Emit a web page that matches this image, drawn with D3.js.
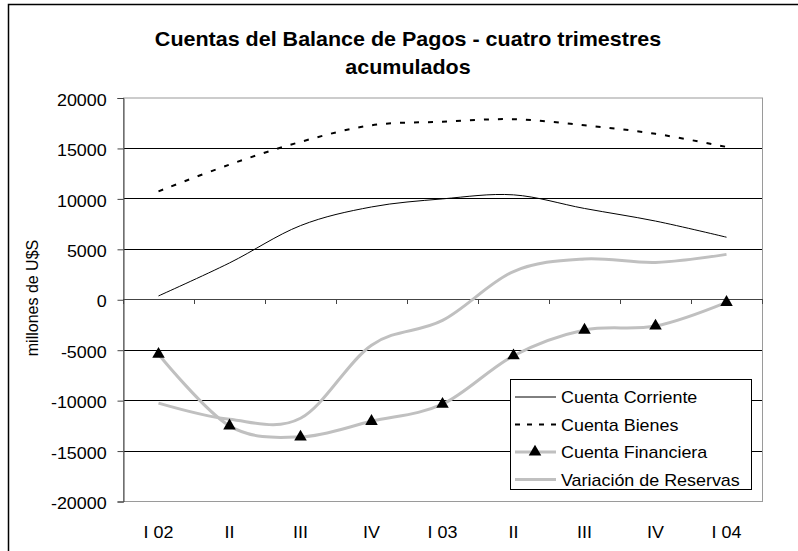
<!DOCTYPE html>
<html>
<head>
<meta charset="utf-8">
<script src="https://cdn.jsdelivr.net/npm/d3@7"></script>
<style>
  body { margin: 0; background: #fff; }
  text { font-family: Arial, "Liberation Sans", sans-serif; fill: #000; }
</style>
</head>
<body>
<svg id="svg" width="798" height="551"></svg>
<script>
// quarters, cumulative four-quarter sums (millones de U$S)
var categories = ["I 02", "II", "III", "IV", "I 03", "II", "III", "IV", "I 04"];
var yTicks = [-20000, -15000, -10000, -5000, 0, 5000, 10000, 15000, 20000];

var cuentaCorriente = [330, 3600, 7300, 9150, 9950, 10350, 9000, 7750, 6150];
var cuentaBienes = [10700, 13350, 15600, 17250, 17600, 17850, 17250, 16400, 15100];
var cuentaFinanciera = [-5450, -12550, -13650, -12100, -10400, -5600, -3050, -2650, -300];
var variacionReservas = [-10300, -11900, -11800, -4550, -2100, 2750, 4000, 3650, 4450];

var seriesNames = ["Cuenta Corriente", "Cuenta Bienes", "Cuenta Financiera", "Variación de Reservas"];

var svg = d3.select("#svg");
var plotLeft = 123, plotRight = 762, plotTop = 97.5, plotBottom = 501;
var sx = 1.12; // the source is a bit wider than tall

var x = d3.scaleBand().domain(d3.range(categories.length)).range([plotLeft, plotRight]);
var y = d3.scaleLinear().domain([-20000, 20000]).range([plotBottom, plotTop]);
var cx = function(i) { return x(i) + x.bandwidth() / 2; };

// outer chart frame
svg.append("rect").attr("x", 8.5).attr("y", 4.5).attr("width", 900).attr("height", 900)
  .attr("fill", "none").attr("stroke", "#000").attr("stroke-width", 1.5);

// title
var title = ["Cuentas del Balance de Pagos - cuatro trimestres", "acumulados"];
svg.selectAll(".title").data(title).enter().append("text")
  .attr("transform", function(d, i) { return "translate(408," + (46 + i * 28) + ") scale(1.075,1)"; })
  .attr("text-anchor", "middle").attr("font-size", 20).attr("font-weight", "bold")
  .text(function(d) { return d; });

// gridlines
svg.append("g").selectAll("line").data(yTicks.filter(function(v) { return v !== 0 && Math.abs(v) < 20000; }))
  .enter().append("line")
  .attr("x1", plotLeft).attr("x2", plotRight)
  .attr("y1", function(d) { return Math.round(y(d)) + 0.5; })
  .attr("y2", function(d) { return Math.round(y(d)) + 0.5; })
  .attr("stroke", "#000").attr("stroke-width", 1);

// plot area border
svg.append("rect").attr("x", plotLeft + 0.5).attr("y", plotTop + 0.5)
  .attr("width", plotRight - plotLeft).attr("height", plotBottom - plotTop)
  .attr("fill", "none").attr("stroke", "#9a9a9a");

// y axis
var yAxis = svg.append("g").attr("transform", "translate(" + (plotLeft + 0.5) + ",0.5)")
  .call(d3.axisLeft(y).tickValues(yTicks).tickSize(6).tickPadding(9).tickFormat(function(d) { return String(d); }));
yAxis.select(".domain").attr("stroke", "#444");
yAxis.selectAll(".tick line").attr("stroke", "#444");
yAxis.selectAll(".tick text").attr("font-size", 16).attr("font-family", "Arial, 'Liberation Sans', sans-serif")
  .attr("dy", "0.45em").attr("transform", "scale(" + sx + ",1)");

// x axis along zero, labels at the bottom
var xAxisLine = svg.append("g");
xAxisLine.append("line").attr("x1", plotLeft).attr("x2", plotRight)
  .attr("y1", Math.round(y(0)) + 0.5).attr("y2", Math.round(y(0)) + 0.5).attr("stroke", "#444");
xAxisLine.selectAll(".xt").data(d3.range(categories.length + 1)).enter().append("line")
  .attr("x1", function(i) { return Math.round(plotLeft + i * x.bandwidth()) + 0.5; })
  .attr("x2", function(i) { return Math.round(plotLeft + i * x.bandwidth()) + 0.5; })
  .attr("y1", Math.round(y(0))).attr("y2", Math.round(y(0)) + 5).attr("stroke", "#444");
svg.selectAll(".xl").data(categories).enter().append("text")
  .attr("transform", function(d, i) { return "translate(" + cx(i) + ",538) scale(" + sx + ",1)"; })
  .attr("text-anchor", "middle").attr("font-size", 16)
  .text(function(d) { return d; });

// y axis title
svg.append("text").attr("transform", "translate(38,298) rotate(-90)")
  .attr("text-anchor", "middle").attr("font-size", 16).text("millones de U$S");

// lines
var line = d3.line()
  .x(function(d, i) { return cx(i); })
  .y(function(d) { return y(d); })
  .curve(d3.curveCatmullRom.alpha(0));

var styles = [
  { data: cuentaCorriente, stroke: "#000", width: 1, dash: null },
  { data: cuentaBienes, stroke: "#000", width: 2, dash: "5,9" },
  { data: cuentaFinanciera, stroke: "#c0c0c0", width: 3, dash: null },
  { data: variacionReservas, stroke: "#c0c0c0", width: 3, dash: null }
];

styles.slice().reverse().forEach(function(s) {
  svg.append("path").datum(s.data).attr("d", line)
    .attr("fill", "none").attr("stroke", s.stroke).attr("stroke-width", s.width)
    .attr("stroke-dasharray", s.dash);
});

var tri = d3.symbol().type(d3.symbolTriangle).size(68);
svg.selectAll(".mk").data(cuentaFinanciera).enter().append("path")
  .attr("d", tri)
  .attr("transform", function(d, i) { return "translate(" + cx(i) + "," + y(d) + ")"; })
  .attr("fill", "#000");

// legend
var lg = svg.append("g");
lg.append("rect").attr("x", 510.5).attr("y", 379.5).attr("width", 241).attr("height", 110)
  .attr("fill", "#fff").attr("stroke", "#000");
var rows = lg.selectAll(".row").data(seriesNames).enter().append("g")
  .attr("transform", function(d, i) { return "translate(0," + (397 + i * 27.5) + ")"; });
rows.append("line").attr("x1", 515).attr("x2", 556).attr("y1", 0).attr("y2", 0)
  .attr("stroke", function(d, i) { return styles[i].stroke; })
  .attr("stroke-width", function(d, i) { return styles[i].width; })
  .attr("stroke-dasharray", function(d, i) { return styles[i].dash ? "5,7" : null; });
rows.filter(function(d, i) { return i === 2; }).append("path")
  .attr("d", tri).attr("transform", "translate(535,0)").attr("fill", "#000");
rows.append("text")
  .attr("transform", "translate(561,6) scale(" + sx + ",1)")
  .attr("font-size", 16)
  .text(function(d) { return d; });
</script>
</body>
</html>
